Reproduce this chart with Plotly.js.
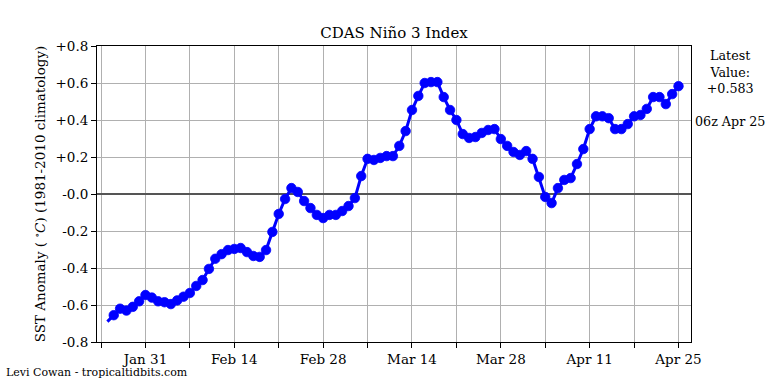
<!DOCTYPE html>
<html>
<head>
<meta charset="utf-8">
<script src="https://cdn.plot.ly/plotly-3.0.1.min.js"></script>
<style>html,body{margin:0;padding:0;background:#fff;}#chart{width:768px;height:384px;}</style>
</head>
<body>
<div id="chart"></div>
<script>
// Daily values, 2025-01-25 through 2025-04-25
const startDate = '2025-01-25';
const anomaly = [
  -0.69, -0.655, -0.62, -0.63, -0.61, -0.58, -0.546,
  -0.56, -0.58, -0.585, -0.595, -0.575, -0.555, -0.535, -0.497, -0.465, -0.405, -0.35, -0.325, -0.303,
  -0.297, -0.292, -0.314, -0.335, -0.34, -0.303, -0.205, -0.108, -0.027, 0.032, 0.011, -0.038, -0.076, -0.113,
  -0.13,
  -0.113, -0.113, -0.092, -0.065, -0.022, 0.097, 0.19, 0.184, 0.195, 0.205, 0.205, 0.26, 0.34, 0.454,
  0.53, 0.60, 0.605, 0.605, 0.524, 0.454, 0.40, 0.324, 0.303, 0.308, 0.33, 0.346, 0.351, 0.297,
  0.26, 0.227, 0.211,
  0.232, 0.19, 0.092, -0.016, -0.049, 0.032, 0.076, 0.086, 0.162, 0.243, 0.351, 0.42, 0.42, 0.41,
  0.351, 0.351, 0.378, 0.42, 0.427, 0.46, 0.524, 0.524, 0.486, 0.54, 0.583
];
const xTickVals = ['2025-01-24','2025-01-31','2025-02-07','2025-02-14','2025-02-21','2025-02-28','2025-03-07','2025-03-14','2025-03-21','2025-03-28','2025-04-04','2025-04-11','2025-04-18','2025-04-25'];
const xTickText = [' ','Jan 31',' ','Feb 14',' ','Feb 28',' ','Mar 14',' ','Mar 28',' ','Apr 11',' ','Apr 25'];
const yTickVals = [-0.8,-0.6,-0.4,-0.2,0,0.2,0.4,0.6,0.8];
const yTickText = ['-0.8','-0.6','-0.4','-0.2','-0.0','+0.2','+0.4','+0.6','+0.8'];

const dates = anomaly.map((v, i) => {
  const d = new Date(startDate + 'T00:00:00Z');
  d.setUTCDate(d.getUTCDate() + i);
  return d.toISOString().slice(0, 10);
});
const markerSizes = anomaly.map((v, i) => i === 0 ? 0 : 9.5);

const font = 'DejaVu Serif, serif';
const trace = {
  x: dates, y: anomaly, type: 'scatter', mode: 'lines+markers',
  line: {color: '#0000ff', width: 3},
  marker: {color: '#0000ff', size: markerSizes, opacity: 1, line: {color: '#0000ff', width: 0.8}},
  hoverinfo: 'x+y'
};
const layout = {
  width: 768, height: 384,
  margin: {l: 97, r: 77, t: 46, b: 42},
  paper_bgcolor: '#fff', plot_bgcolor: '#fff',
  font: {family: font, size: 13, color: '#000'},
  showlegend: false,
  title: {text: 'CDAS Niño 3 Index', font: {family: font, size: 15}, x: 0.5, xref: 'paper', y: 1 - 33/384, yanchor: 'middle'},
  xaxis: {
    type: 'date', range: ['2025-01-23 08:40', '2025-04-26 23:15'],
    tickmode: 'array', tickvals: xTickVals, ticktext: xTickText,
    ticks: 'outside', ticklen: 5, tickcolor: '#000', tickwidth: 1,
    showgrid: true, gridcolor: '#b0b0b0', gridwidth: 1,
    showline: true, linecolor: '#000', linewidth: 1, mirror: true,
    zeroline: false, tickfont: {family: font, size: 13.5}
  },
  yaxis: {
    range: [-0.8, 0.8],
    tickmode: 'array', tickvals: yTickVals, ticktext: yTickText,
    ticks: 'outside', ticklen: 5, tickcolor: '#000', tickwidth: 1,
    showgrid: true, gridcolor: '#b0b0b0', gridwidth: 1,
    showline: true, linecolor: '#000', linewidth: 1, mirror: true,
    zeroline: true, zerolinecolor: '#555', zerolinewidth: 1.5,
    tickfont: {family: font, size: 13.5},
    title: {text: 'SST Anomaly ( <sup>∘</sup><i>C</i>) (1981-2010 climatology)', font: {family: font, size: 13.5}, standoff: 6}
  },
  annotations: [
    {text: 'Latest<br>Value:<br>+0.583<br><br>06z Apr 25', xref: 'paper', yref: 'paper',
     x: (729.5 - 97) / 594, y: 1.0, xanchor: 'center', yanchor: 'top', align: 'center', showarrow: false,
     font: {family: font, size: 12.7}},
    {text: 'Levi Cowan - tropicaltidbits.com', xref: 'paper', yref: 'paper',
     x: (4 - 97) / 594, y: (342 - 372) / 296, xanchor: 'left', yanchor: 'middle', showarrow: false,
     font: {family: font, size: 11}}
  ]
};
Plotly.newPlot('chart', [trace], layout, {displayModeBar: false, staticPlot: true});
</script>
</body>
</html>
